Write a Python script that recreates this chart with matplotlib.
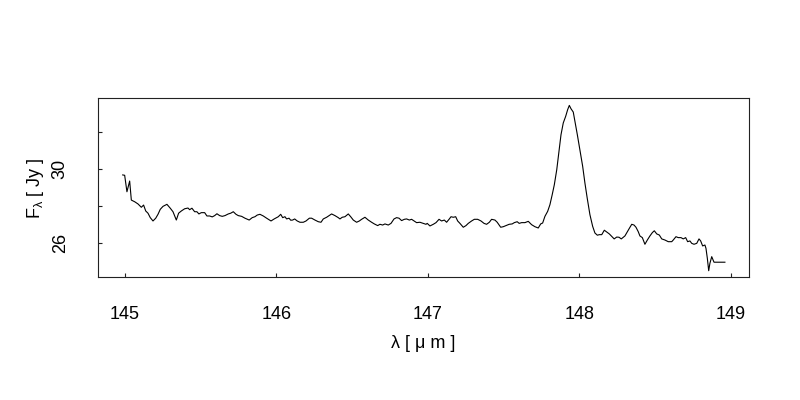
import matplotlib
matplotlib.use("Agg")
import matplotlib.pyplot as plt

plt.rcParams["font.family"] = ["Liberation Sans", "DejaVu Sans"]
plt.rcParams["mathtext.default"] = "regular"

# ── Spectre : longueur d'onde (µm) et flux (Jy) ─────────────────────────────
wavelength = [
    144.985, 144.998, 145.013, 145.031, 145.042, 145.064, 145.086, 145.108, 145.123, 145.137,
    145.152, 145.167, 145.185, 145.203, 145.218, 145.233, 145.251, 145.277, 145.299, 145.317,
    145.339, 145.354, 145.372, 145.394, 145.416, 145.427, 145.442, 145.460, 145.475, 145.488,
    145.504, 145.526, 145.541, 145.559, 145.576, 145.592, 145.607, 145.625, 145.642,
    145.660, 145.682, 145.698, 145.715, 145.733, 145.748, 145.770, 145.792, 145.820, 145.840,
    145.858, 145.873, 145.891, 145.913, 145.935, 145.964, 145.985, 146.012, 146.028, 146.041,
    146.056, 146.067, 146.083, 146.094, 146.107, 146.120, 146.137, 146.155, 146.177, 146.195,
    146.217, 146.232, 146.254, 146.276, 146.294,
    146.309, 146.331, 146.347, 146.364, 146.386, 146.408, 146.419, 146.434, 146.452, 146.474,
    146.490, 146.507, 146.529, 146.547, 146.562, 146.584, 146.606, 146.628, 146.646, 146.668,
    146.683, 146.701, 146.716, 146.738, 146.756, 146.776, 146.793, 146.809, 146.826, 146.844,
    146.859, 146.877, 146.892, 146.908, 146.925, 146.947,
    146.969, 146.987, 146.995, 147.013, 147.035, 147.053, 147.073, 147.090, 147.108, 147.123,
    147.141, 147.152, 147.167, 147.183, 147.196, 147.211, 147.233, 147.251, 147.266, 147.288,
    147.306, 147.328, 147.350, 147.370, 147.387, 147.405, 147.420, 147.442, 147.457, 147.480,
    147.497, 147.515, 147.536, 147.556, 147.570, 147.589, 147.602, 147.618,
    147.640, 147.662, 147.684, 147.706, 147.728, 147.744, 147.757, 147.772, 147.790, 147.805,
    147.820, 147.834, 147.850, 147.865, 147.878, 147.893, 147.909, 147.922, 147.933, 147.944,
    147.959, 147.970, 147.986, 148.003, 148.021, 148.036, 148.051, 148.069, 148.087, 148.102,
    148.118, 148.131, 148.147, 148.164, 148.180, 148.197, 148.212, 148.229, 148.246, 148.261,
    148.276,
    148.300, 148.316, 148.329, 148.345, 148.360, 148.373, 148.388, 148.399, 148.415, 148.432,
    148.448, 148.465, 148.481, 148.494, 148.510, 148.527, 148.543, 148.564, 148.586, 148.609,
    148.619, 148.637, 148.652, 148.670, 148.685, 148.701, 148.714, 148.729, 148.741, 148.756,
    148.774, 148.789, 148.800, 148.813, 148.828, 148.835, 148.844, 148.853, 148.861, 148.873,
    148.888, 148.916, 148.960,
]
flux = [
    29.68, 29.66, 28.77, 29.35, 28.32, 28.23, 28.11, 27.93, 28.05, 27.73,
    27.61, 27.37, 27.19, 27.34, 27.55, 27.82, 27.98, 28.09, 27.88, 27.69,
    27.24, 27.61, 27.73, 27.85, 27.89, 27.80, 27.88, 27.69, 27.69, 27.57,
    27.64, 27.64, 27.46, 27.46, 27.41, 27.48, 27.58, 27.48, 27.44,
    27.48, 27.57, 27.61, 27.69, 27.55, 27.48, 27.44, 27.34, 27.24, 27.37,
    27.42, 27.51, 27.55, 27.46, 27.34, 27.19, 27.30, 27.42, 27.55, 27.37,
    27.42, 27.30, 27.34, 27.23, 27.24, 27.30, 27.19, 27.12, 27.12, 27.19,
    27.34, 27.34, 27.24, 27.15, 27.12,
    27.30, 27.39, 27.48, 27.57, 27.48, 27.37, 27.30, 27.39, 27.42, 27.57,
    27.42, 27.24, 27.12, 27.19, 27.28, 27.39, 27.24, 27.12, 27.03, 26.94,
    27.01, 26.97, 27.03, 26.97, 27.06, 27.30, 27.37, 27.34, 27.21, 27.28,
    27.30, 27.24, 27.28, 27.19, 27.10, 27.12,
    27.06, 27.01, 27.06, 26.92, 27.01, 27.10, 27.28, 27.19, 27.24, 27.12,
    27.30, 27.42, 27.39, 27.42, 27.19, 27.06, 26.85, 26.94, 27.06, 27.19,
    27.28, 27.28, 27.19, 27.06, 27.01, 27.12, 27.28, 27.24, 27.12, 26.85,
    26.88, 26.94, 27.01, 27.03, 27.10, 27.15, 27.06, 27.10,
    27.10, 27.17, 26.99, 26.88, 26.81, 27.03, 27.08, 27.44, 27.71, 28.07,
    28.61, 29.15, 29.96, 30.96, 31.85, 32.49, 32.85, 33.21, 33.44, 33.26,
    33.08, 32.58, 31.85, 31.04, 30.15, 29.24, 28.43, 27.53, 26.90, 26.54,
    26.42, 26.45, 26.45, 26.69, 26.59, 26.49, 26.36, 26.22, 26.32, 26.31,
    26.22,
    26.38, 26.61, 26.79, 27.01, 26.97, 26.85, 26.61, 26.38, 26.29, 25.93,
    26.16, 26.38, 26.56, 26.66, 26.49, 26.43, 26.22, 26.16, 26.07, 26.07,
    26.16, 26.34, 26.29, 26.29, 26.22, 26.29, 26.07, 26.11, 25.98, 25.93,
    25.98, 26.22, 26.11, 25.84, 25.89, 25.71, 25.17, 24.50, 24.90, 25.26,
    24.96, 24.96, 24.96,
]

x_ticks = [145, 146, 147, 148, 149]
y_ticks = [26, 28, 30, 32]
y_tick_labels = ["26", "", "30", ""]

# ── Figure ──────────────────────────────────────────────────────────────────
fig = plt.figure(figsize=(8, 4), dpi=100)
ax = fig.add_axes([0.1225, 0.3075, 0.81375, 0.4475])

ax.plot(wavelength, flux, color="black", lw=0.8)

ax.set_xlim(144.822, 149.119)
ax.set_ylim(24.16, 33.84)
ax.set_xticks(x_ticks)
ax.set_xticklabels([str(t) for t in x_ticks])
ax.set_yticks(y_ticks)
ax.set_yticklabels(y_tick_labels, rotation=90, va="center")

for side in ax.spines.values():
    side.set_linewidth(0.8)
    side.set_color("#222222")
ax.tick_params(direction="in", length=3, width=0.8, labelsize=13, color="#222222")
ax.tick_params(axis="x", pad=21)
ax.tick_params(axis="y", pad=21)

fig.text(0.529, 0.14, "λ [ μ m ]", ha="center", va="center", fontsize=13)
fig.text(0.045, 0.53, r"F$_{λ}$ [ Jy ]", ha="center", va="center",
         rotation=90, fontsize=13)

fig.savefig("out.png", dpi=100)
